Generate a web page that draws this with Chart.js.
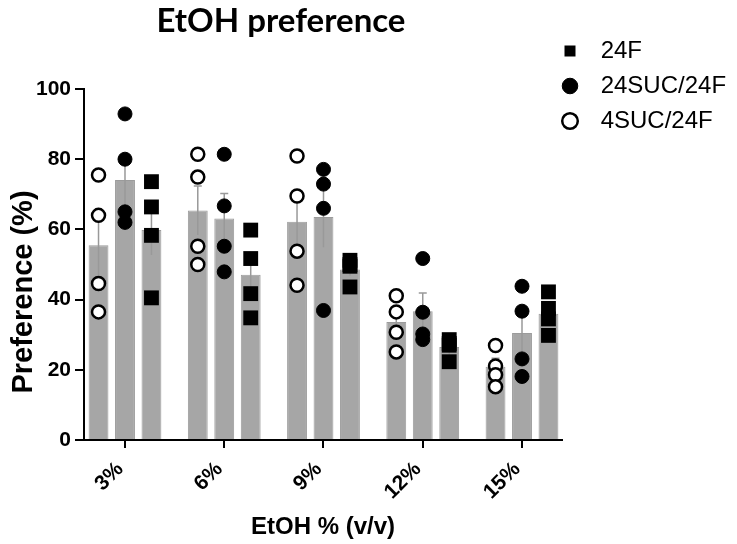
<!DOCTYPE html>
<html lang="en">
<head>
    <meta charset="UTF-8">
    <title>EtOH preference</title>
    <script src="https://cdn.jsdelivr.net/npm/chart.js"></script>
    <style>
        html, body {
            margin: 0;
            padding: 0;
            background: #fff;
        }
    </style>
</head>
<body>
    <canvas id="myChart" width="737" height="544"></canvas>
    <script>
        const concentrations = ['3%', '6%', '9%', '12%', '15%'];
        const groups = ['4SUC/24F', '24SUC/24F', '24F'];

        // single values per group (one row per concentration)
        const points4SUC = [[75.5, 64, 44.6, 36.5], [81.4, 74.9, 55.2, 50], [80.9, 69.5, 53.8, 44.1], [41.1, 36.5, 30.7, 25.1], [26.9, 21.1, 18.6, 15.2]];
        const points24SUC = [[92.9, 80, 65, 62], [81.4, 66.7, 55.2, 47.9], [77.1, 72.9, 66, 36.9], [51.7, 36.4, 30.2, 28.6], [43.8, 36.7, 23.1, 18.1]];
        const points24F = [[73.6, 66.4, 58.3, 40.5], [59.8, 51.7, 41.7, 34.8], [51.2, 49.5, 50, 43.6], [28.6, 27.5, 27, 22.3], [42.2, 37.5, 34.5, 29.8]];

        // bar height (mean) and error bar (SEM)
        const mean4SUC = [55.5, 65.4, 62.2, 33.6, 20.9];
        const mean24SUC = [74.1, 63.1, 63.5, 36.7, 30.5];
        const mean24F = [59.8, 47.1, 48.6, 26.5, 36];
        const sem4SUC = [8.5, 7, 8.3, 2.9, 2.4];
        const sem24SUC = [7, 7.1, 8.6, 5.2, 6.6];
        const sem24F = [7.1, 5.8, 1.7, 2.4, 2.6];

        const slot = 0.8 / 3; // width of one bar slot inside a group (x units)

        Chart.defaults.font.family = "'Liberation Sans', Arial, sans-serif";
        Chart.defaults.color = '#000';

        function barSet(label, means, sems) {
            return {
                type: 'bar',
                label: label,
                data: means.map((m, i) => ({ x: i, y: m })),
                sem: sems,
                backgroundColor: '#a6a6a6',
                borderColor: '#9b9b9b',
                borderWidth: 1,
                barPercentage: 0.75,
                categoryPercentage: 0.8,
                order: 2
            };
        }

        function dotSet(label, values, shift, style) {
            return Object.assign({
                type: 'scatter',
                label: label,
                data: values.flatMap((vals, i) => vals.map(v => ({ x: i + shift * slot, y: v }))),
                order: 1
            }, style);
        }

        // gray error bars on top of each bar
        const errorBars = {
            id: 'errorBars',
            afterDatasetDraw(chart, args) {
                const ds = chart.data.datasets[args.index];
                if (!ds.sem) return;
                const yScale = chart.scales.y;
                const ctx = chart.ctx;
                ctx.save();
                ctx.strokeStyle = '#999';
                ctx.lineWidth = 1.5;
                args.meta.data.forEach((bar, i) => {
                    const top = yScale.getPixelForValue(ds.data[i].y + ds.sem[i]);
                    const bottom = yScale.getPixelForValue(ds.data[i].y - ds.sem[i]);
                    ctx.beginPath();
                    ctx.moveTo(bar.x, bottom);
                    ctx.lineTo(bar.x, top);
                    ctx.moveTo(bar.x - 4, top);
                    ctx.lineTo(bar.x + 4, top);
                    ctx.stroke();
                });
                ctx.restore();
            }
        };

        // title centred over y axis + plot, legend pulled in a bit, rotated y title
        const extraText = {
            id: 'extraText',
            afterLayout(chart) {
                chart.titleBlock.left = 0;
                chart.titleBlock.right = chart.chartArea.right;
                chart.legend.left -= 15;
                chart.legend.right = chart.width;
            },
            afterDraw(chart) {
                const ctx = chart.ctx;
                ctx.save();
                ctx.translate(24, 292);
                ctx.rotate(-Math.PI / 2);
                ctx.font = "bold 29px 'Liberation Sans', Arial, sans-serif";
                ctx.fillStyle = '#000';
                ctx.textAlign = 'center';
                ctx.textBaseline = 'middle';
                ctx.fillText('Preference (%)', 0, 0);
                ctx.restore();
            }
        };

        const ctx = document.getElementById('myChart').getContext('2d');
        const myChart = new Chart(ctx, {
            type: 'bar',
            data: {
                datasets: [
                    barSet(groups[0], mean4SUC, sem4SUC),
                    barSet(groups[1], mean24SUC, sem24SUC),
                    barSet(groups[2], mean24F, sem24F),
                    dotSet('24F', points24F, 1, { pointStyle: 'rect', pointRadius: 10.5, backgroundColor: '#000', borderColor: '#000', borderWidth: 0 }),
                    dotSet('24SUC/24F', points24SUC, 0, { pointStyle: 'circle', pointRadius: 7, backgroundColor: '#000', borderColor: '#000', borderWidth: 1 }),
                    dotSet('4SUC/24F', points4SUC, -1, { pointStyle: 'circle', pointRadius: 6.5, backgroundColor: '#fff', borderColor: '#000', borderWidth: 2.5 })
                ]
            },
            options: {
                responsive: false,
                animation: false,
                layout: { padding: { left: 0, right: 5, top: 0, bottom: 0 } },
                plugins: {
                    tooltip: { enabled: false },
                    title: {
                        display: true,
                        text: 'EtOH preference',
                        fullSize: false,
                        color: '#000',
                        font: { family: 'Lato', size: 33, weight: 'bold' },
                        padding: { top: 2, bottom: 47.4 }
                    },
                    legend: {
                        position: 'right',
                        align: 'start',
                        maxWidth: 170,
                        title: { display: true, text: ' ', font: { size: 20 }, padding: { top: 0, bottom: 4 } },
                        labels: {
                            usePointStyle: true,
                            boxHeight: 11,
                            boxWidth: 24,
                            padding: 11,
                            color: '#000',
                            font: { size: 24 },
                            filter: item => item.datasetIndex >= 3,
                            generateLabels: chart => Chart.defaults.plugins.legend.labels.generateLabels(chart)
                                .map(item => Object.assign(item, { text: ' ' + item.text }))
                        }
                    }
                },
                scales: {
                    x: {
                        type: 'linear',
                        min: -0.413,
                        max: 4.403,
                        offset: false,
                        afterFit: scale => { scale.height = 104; },
                        grid: { offset: false, drawOnChartArea: false, drawTicks: true, tickLength: 8, color: '#000', lineWidth: 2 },
                        border: { color: '#000', width: 2 },
                        ticks: {
                            stepSize: 1,
                            includeBounds: false,
                            autoSkip: false,
                            minRotation: 45,
                            maxRotation: 45,
                            padding: 9,
                            labelOffset: -5,
                            color: '#000',
                            font: { size: 21, weight: 'bold' },
                            callback: value => concentrations[value] ?? ''
                        },
                        title: {
                            display: true,
                            text: 'EtOH % (v/v)',
                            color: '#000',
                            font: { size: 24, weight: 'bold' },
                            padding: { top: 0, bottom: 2 }
                        }
                    },
                    y: {
                        min: 0,
                        max: 100,
                        afterFit: scale => { scale.width = 84; },
                        grid: { drawOnChartArea: false, drawTicks: true, tickLength: 9, color: '#000', lineWidth: 2 },
                        border: { color: '#000', width: 2 },
                        ticks: {
                            stepSize: 20,
                            padding: 4,
                            color: '#000',
                            font: { size: 21, weight: 'bold' }
                        }
                    }
                }
            },
            plugins: [errorBars, extraText]
        });
    </script>
</body>
</html>
